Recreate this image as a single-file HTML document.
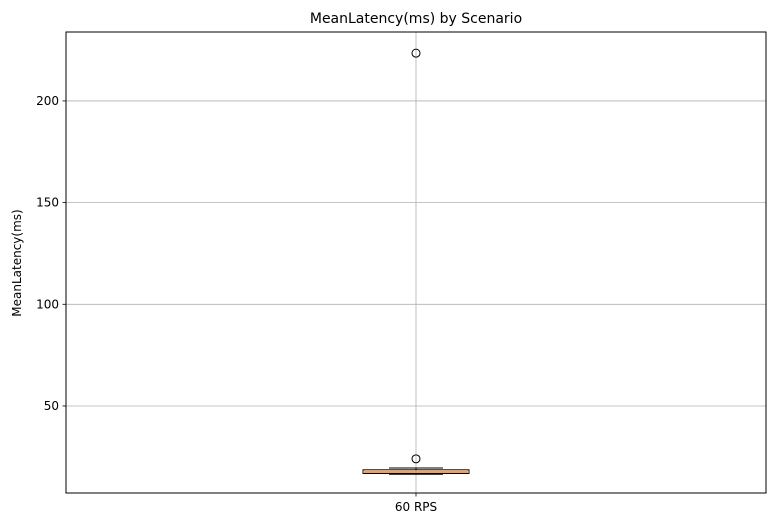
<!DOCTYPE html>
<html><head><meta charset="utf-8"><style>
body{margin:0;background:#fff;}
svg{display:block;font-family:"DejaVu Sans","Liberation Sans",sans-serif;}
</style></head><body>
<svg id="chart" width="773" height="528">
<rect width="773" height="528" fill="#fff"/>
<text x="416" y="23" text-anchor="middle" font-size="14">MeanLatency(ms) by Scenario</text>
<text transform="translate(21,263) rotate(-90)" text-anchor="middle" font-size="12">MeanLatency(ms)</text>
<g id="grid"></g><g id="marks"></g><g id="axes"></g>
</svg>
<script>
const categories = ["60 RPS"];
const whiskerLow = [16.4];
const q1 = [16.8];
const median = [17.5];
const q3 = [18.6];
const whiskerHigh = [19.5];
const outliers = [[24.0, 223.5]];
const yTicks = [50, 100, 150, 200];

const L=66,R=766,T=32,B=493;
const yMin=7.2,yMax=233.9;
const ns="http://www.w3.org/2000/svg";
function y(v){return B-(v-yMin)/(yMax-yMin)*(B-T);}
function x(i){return L+(i+1)*(R-L)/(categories.length+1);}
function mk(tag,attrs,parent){const e=document.createElementNS(ns,tag);for(const k in attrs)e.setAttribute(k,attrs[k]);document.getElementById(parent).appendChild(e);return e;}

yTicks.forEach(t=>{
  const g=mk('line',{x1:L,x2:R,y1:y(t),y2:y(t),stroke:'#b0b0b0','stroke-width':0.8},'grid');
  
  
  mk('line',{x1:L-3.5,x2:L,y1:y(t),y2:y(t),stroke:'#000','stroke-width':0.8},'axes');
  const lb=mk('text',{x:L-7,y:y(t)+4,'text-anchor':'end','font-size':12},'axes');
  lb.textContent=t;
  
  
});
categories.forEach((c,i)=>{
  const cx=x(i);
  const gl=mk('line',{x1:cx,x2:cx,y1:T,y2:B,stroke:'#b0b0b0','stroke-width':0.8},'grid');
  
  
  mk('line',{x1:cx,x2:cx,y1:B,y2:B+3.5,stroke:'#000','stroke-width':0.8},'axes');
  const lb=mk('text',{x:cx,y:B+18,'text-anchor':'middle','font-size':12},'axes');
  lb.textContent=c;
  
  
  const bw=106,cw=54;
  mk('line',{x1:cx,x2:cx,y1:y(q3[i]),y2:y(whiskerHigh[i]),stroke:'#000'},'marks');
  mk('line',{x1:cx,x2:cx,y1:y(q1[i]),y2:y(whiskerLow[i]),stroke:'#000'},'marks');
  const ch=mk('line',{x1:cx-cw/2,x2:cx+cw/2,y1:y(whiskerHigh[i]),y2:y(whiskerHigh[i]),stroke:'#000'},'marks');
  
  
  const cl=mk('line',{x1:cx-cw/2,x2:cx+cw/2,y1:y(whiskerLow[i]),y2:y(whiskerLow[i]),stroke:'#000'},'marks');
  
  
  const bx=mk('rect',{x:cx-bw/2,y:y(q3[i]),width:bw,height:y(q1[i])-y(q3[i]),fill:'none',stroke:'#000'},'marks');
  
  
  const md=mk('line',{x1:cx-bw/2,x2:cx+bw/2,y1:y(median[i]),y2:y(median[i]),stroke:'#ff7f0e','stroke-width':1.5},'marks');
  
  
  outliers[i].forEach(o=>{
    const p=mk('circle',{cx:cx,cy:y(o),r:4,fill:'none',stroke:'#000'},'marks');
    
    
  });
});
const fr=mk('rect',{x:L,y:T,width:R-L,height:B-T,fill:'none',stroke:'#000','stroke-width':1},'axes');


</script>
</body></html>
